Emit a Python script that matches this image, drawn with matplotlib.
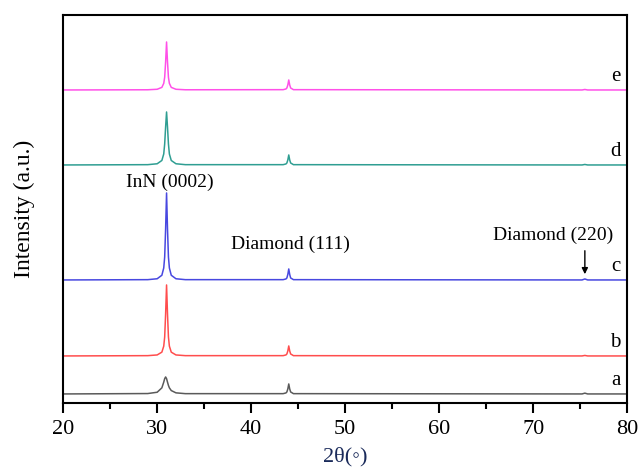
## xrd_stack_fig: stacked XRD patterns of InN films on diamond
# -----------------------------------------------------------------------------
print('\n*** stacked XRD patterns: drawing figure ***')

# -----------------------------------------------------------------------------
print('\n## --- section__: importing item from module ---')
from matplotlib import (pyplot as plt)
from matplotlib.ticker import (MultipleLocator)

# -----------------------------------------------------------------------------
print('\n## --- section_a: setting data read from the picture ---')
tth = [20, 29.0, 30.0, 30.5, 30.7, 30.8, 30.9, 31.0, 31.1, 31.2, 31.3, 31.5, 32.0, 33.0,
       43.4, 43.7, 43.8, 43.9, 44.0, 44.1, 44.2, 44.5, 75.2, 75.5, 75.8, 80]
int_a = [0, 0.4, 1.7, 6.1, 11.8, 15.3, 17, 15.3, 11.8, 8.5, 6.1, 3.4, 1.1, 0.3,
         0.3, 1, 2, 5, 10, 5, 2, 0.3, 0, 0.8, 0, 0]
int_b = [0, 0.3, 1, 3.8, 9.8, 19, 42, 71, 42, 19, 9.8, 3.8, 1, 0.3,
         0.3, 1, 2, 5, 10, 5, 2, 0.3, 0, 0.5, 0, 0]
int_c = [0, 0.3, 1.2, 4.7, 12, 23, 51, 87, 51, 23, 12, 4.7, 1.2, 0.3,
         0.3, 1, 2, 5.5, 11, 5.5, 2, 0.3, 0, 1, 0, 0]
int_d = [0, 0.3, 1.2, 4.5, 11, 21, 38, 53, 38, 21, 11, 4.5, 1.2, 0.3,
         0.3, 1, 2, 5, 10, 5, 2, 0.3, 0, 0.5, 0, 0]
int_e = [0, 0.2, 0.7, 2.6, 6.6, 12.7, 28, 48, 28, 12.7, 6.6, 2.6, 0.7, 0.2,
         0.3, 1, 2, 5, 10, 5, 2, 0.3, 0, 0.5, 0, 0]
names = ['a', 'b', 'c', 'd', 'e']
shifts = [9, 47, 123, 238, 313]  # vertical offset of each pattern (a.u.)
peaks = ['InN (0002)', 'Diamond (111)', 'Diamond (220)']

# -----------------------------------------------------------------------------
print('\n## --- section_b: drawing patterns ---')
plt.rcParams['font.family'] = ['Liberation Serif', 'DejaVu Sans']
clrs = ['#5a5a5a', '#ff4d4d', '#4848e0', '#2f9e92', '#ff50e8']

fig = plt.figure(figsize=(6.38, 4.68), dpi=100)
ax = fig.add_axes([0.099, 0.139, 0.884, 0.829])

for (i, ints) in enumerate([int_a, int_b, int_c, int_d, int_e]):
    ax.plot(tth, [v + shifts[i] for v in ints],
        linestyle='-', linewidth=1.1, color=clrs[i])
    ax.text(79.3, shifts[i] + 13, names[i], ha='right', va='center', fontsize=15)

ax.text(31.3, 221, peaks[0], ha='center', va='center', fontsize=14)
ax.text(44.2, 159, peaks[1], ha='center', va='center', fontsize=14)
ax.text(72.1, 168, peaks[2], ha='center', va='center', fontsize=14)
ax.annotate('', xy=(75.5, shifts[2] + 3), xytext=(75.5, shifts[2] + 32),
    arrowprops=dict(arrowstyle='-|>', color='black', lw=1.0, mutation_scale=9))

ax.set_xlim(20, 80)
ax.set_ylim(0, 388)
ax.xaxis.set_major_locator(MultipleLocator(10))
ax.xaxis.set_minor_locator(MultipleLocator(5))
ax.tick_params(axis='x', which='major', direction='out', length=7, width=1.5,
    labelsize=16, pad=5)
ax.tick_params(axis='x', which='minor', direction='out', length=4, width=1.5)
ax.set_yticks([])
for sp in ax.spines.values():
    sp.set_linewidth(1.5)

ax.set_xlabel('2θ(◦)', fontsize=16, color='#1a2a5a', labelpad=6)
ax.set_ylabel('Intensity (a.u.)', fontsize=17, labelpad=20)

fig.savefig('out.png', dpi=100)
